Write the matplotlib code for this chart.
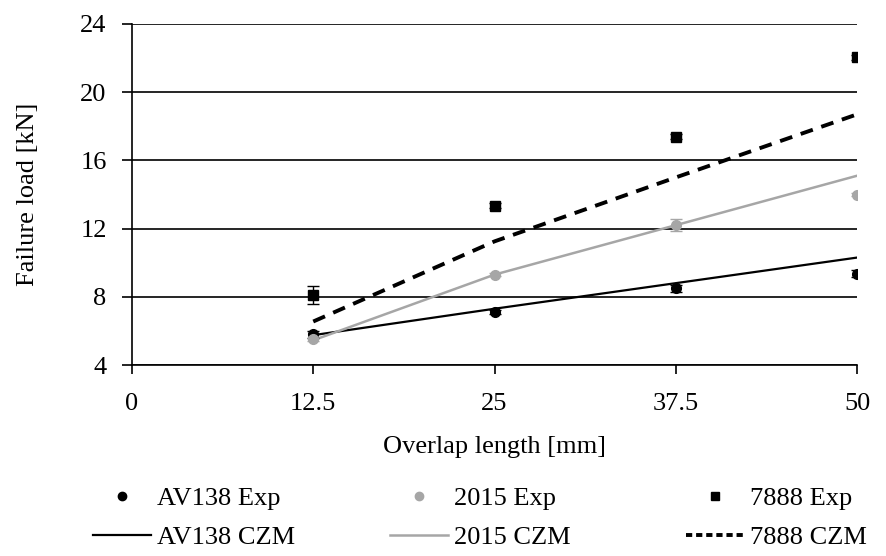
import matplotlib
matplotlib.use("Agg")
import matplotlib.pyplot as plt
from matplotlib.lines import Line2D

plt.rcParams['font.family'] = ['Liberation Serif', 'DejaVu Serif']

# Overlap lengths [mm]
overlap = [12.5, 25, 37.5, 50]

# Experimental failure loads [kN] and scatter
av138_exp = [5.8, 7.1, 8.5, 9.35]
av138_err = [0.2, 0.1, 0.2, 0.2]
a2015_exp = [5.5, 9.3, 12.2, 14.0]
a2015_err = [0.1, 0.1, 0.35, 0.1]
a7888_exp = [8.1, 13.35, 17.4, 22.05]
a7888_err = [0.53, 0.15, 0.15, 0.15]

# Cohesive zone model predictions [kN]
av138_czm = [5.75, 7.3, 8.8, 10.3]
a2015_czm = [5.45, 9.3, 12.2, 15.1]
a7888_czm = [6.55, 11.25, 15.0, 18.7]

x_ticks = [0, 12.5, 25, 37.5, 50]
x_tick_labels = ['0', '12.5', '25', '37.5', '50']
y_ticks = [4, 8, 12, 16, 20, 24]

GRAY = '#a6a6a6'
FS = 19
W, H = 887, 556

fig = plt.figure(figsize=(W / 100, H / 100), dpi=100)
ax = fig.add_axes([132 / W, 1 - 365 / H, 725 / W, 341 / H])

# horizontal grid
for yv in y_ticks:
    ax.axhline(yv, color='black', lw=1.2, zorder=1)

# model curves
ax.plot(overlap, av138_czm, color='black', lw=1.6, zorder=3)
ax.plot(overlap, a2015_czm, color=GRAY, lw=1.8, zorder=3)
ax.plot(overlap, a7888_czm, color='black', lw=2.8, dashes=(3.3, 2.3), zorder=3)

# experimental points with error bars
eb = dict(capsize=4.3, elinewidth=1.0, capthick=1.0, zorder=4)
ax.errorbar(overlap, av138_exp, yerr=av138_err, fmt='o', color='black', ms=7, **eb)
ax.errorbar(overlap, a2015_exp, yerr=a2015_err, fmt='o', color=GRAY, ms=7, **eb)
ax.errorbar(overlap, a7888_exp, yerr=a7888_err, fmt='s', color='black', ms=7, **eb)

ax.set_xlim(0, 50)
ax.set_ylim(4, 24)
ax.set_xticks(x_ticks)
ax.set_xticklabels(x_tick_labels)
ax.set_yticks(y_ticks)
ax.tick_params(axis='x', direction='out', length=6.5, width=1.2,
               labelsize=FS, color='black', pad=14)
ax.tick_params(axis='y', direction='out', length=7.2, width=1.2,
               labelsize=FS, color='black', pad=11)

for side in ('top', 'right'):
    ax.spines[side].set_visible(False)
ax.spines['left'].set_linewidth(1.2)
ax.spines['bottom'].set_linewidth(1.2)

ax.set_xlabel('Overlap length [mm]', fontsize=FS, labelpad=15)
ax.set_ylabel('Failure load [kN]', fontsize=FS, labelpad=30)

# legend: three evenly spaced columns, experiment above model
columns = [
    (93, Line2D([], [], ls='none', marker='o', color='black', ms=6), 'AV138 Exp',
     Line2D([], [], color='black', lw=1.6), 'AV138 CZM'),
    (390, Line2D([], [], ls='none', marker='o', color=GRAY, ms=6), '2015 Exp',
     Line2D([], [], color=GRAY, lw=1.8), '2015 CZM'),
    (686, Line2D([], [], ls='none', marker='s', color='black', ms=6), '7888 Exp',
     Line2D([], [], color='black', lw=2.8, dashes=(1.6, 1.0)), '7888 CZM'),
]
for x0, h1, l1, h2, l2 in columns:
    fig.legend([h1, h2], [l1, l2], loc='center left',
               bbox_to_anchor=(x0 / W, 1 - 518 / H), frameon=False,
               fontsize=FS, handlelength=2.2, handletextpad=0.22,
               labelspacing=0.6, borderpad=0, borderaxespad=0)

fig.savefig('out.png', dpi=100)
